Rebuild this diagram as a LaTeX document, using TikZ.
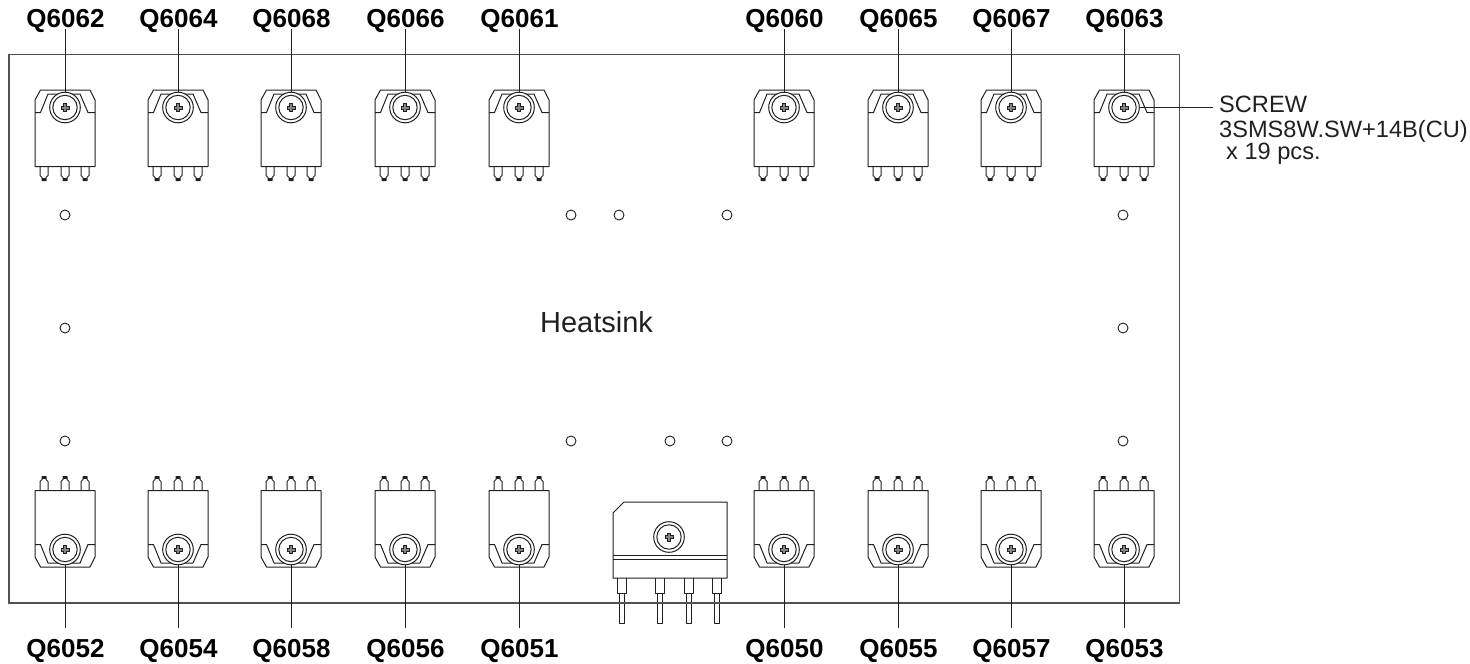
\documentclass[tikz,border=0pt]{standalone}
\usepackage{fontspec}
\setmainfont{Liberation Sans}
\definecolor{ink}{HTML}{231F20}
\definecolor{frame}{HTML}{55514F}
\tikzset{
  x=1pt,y=-1pt,
  part/.style={draw=ink,line width=1pt,line join=round},
  thin part/.style={draw=ink,line width=0.8pt},
  leader/.style={draw=ink,line width=1pt},
  qlabel/.style={font=\fontsize{26}{26}\selectfont\bfseries,text=black,inner sep=0pt,anchor=base},
  hole/.style={circle,draw=ink,line width=0.9pt,minimum size=10pt,inner sep=0pt,fill=white},
}
% screw centred on the origin
\newcommand{\screwhead}{%
  \draw[part] (0,0) circle (15.3);
  \draw[part] (0,0) circle (12.2);
  \draw[thin part,fill=ink!55] (-1.4,-4) -- (1.4,-4) -- (1.4,-1.4) -- (4,-1.4) -- (4,1.4) -- (1.4,1.4) -- (1.4,4) -- (-1.4,4) -- (-1.4,1.4) -- (-4,1.4) -- (-4,-1.4) -- (-1.4,-1.4) -- cycle;
}
% transistor, screw centre on the origin, leads pointing down
\newcommand{\transistor}[1]{%
  \begin{scope}[shift={#1}]
    \draw[part] (-30,-7.5) -- (-30,59) -- (30,59) -- (30,-7.5) -- (25,-17.5) -- (-24.5,-17.5) -- (-30,-7.5) -- cycle;
    \draw[part] (-30,5) -- (-24.5,5) -- (-17,-13.5) -- (15,-13.5) -- (23,5) -- (30,5);
    \foreach \lx in {-21,0,20} {
      \draw[part] (\lx-4,59) -- (\lx-4,68) -- (\lx-2,70) -- (\lx-2,73) -- (\lx+2,73) -- (\lx+2,70) -- (\lx+4,68) -- (\lx+4,59);
      \fill[ink] (\lx-2,70.5) rectangle (\lx+2,73.5);
    }
    \fill[white] (0,0) circle (15.3);
    \screwhead
  \end{scope}
}
\begin{document}
\begin{tikzpicture}
\useasboundingbox (0,0) rectangle (1470,664);
% heatsink
\draw[draw=frame,line width=1.5pt,line join=miter] (9,603) -- (9,54.5) -- (1179.5,54.5) -- (1179.5,603) -- cycle;
\node[inner sep=0pt,anchor=base,text=ink,font=\fontsize{29}{29}\selectfont] (heatsink) at (596.5,332) {Heatsink};
% holes
\foreach \n/\hx/\hy in {h1/65/215,h2/65/328,h3/65/441,h4/571/215,h5/619/215,h6/727/215,h7/1123/215,h8/1123/328,h9/1123/441,h10/571/441,h11/670/441,h12/727/441}
  \node[hole] (\n) at (\hx,\hy) {};
% top row
\foreach \n/\cx in {Q6062/65,Q6064/178,Q6068/291,Q6066/405,Q6061/519,Q6060/784,Q6065/898,Q6067/1011,Q6063/1124} {
  \transistor{(\cx,107.5)}
  \coordinate (s\n) at (\cx,92.2);
  \node[qlabel] (\n) at (\cx+0.5,27) {\n};
  \draw[leader] (\cx,29) -- (s\n);
}
% bottom row
\foreach \n/\cx in {Q6052/65,Q6054/178,Q6058/291,Q6056/405,Q6051/519,Q6050/784,Q6055/898,Q6057/1011,Q6053/1124} {
  \begin{scope}[yscale=-1,shift={(0,-549.5)}]
    \transistor{(\cx,0)}
  \end{scope}
  \coordinate (s\n) at (\cx,564.8);
  \node[qlabel] (\n) at (\cx+0.5,657) {\n};
  \draw[leader] (s\n) -- (\cx,628);
}
% bridge rectifier
\foreach \lx in {622,660,689,717} {
  \draw[part,fill=white] (\lx-4.5,578) -- (\lx-4.5,593) -- (\lx+4.5,593) -- (\lx+4.5,578);
  \draw[part,fill=white] (\lx-2.5,593) rectangle (\lx+2.5,623);
}
\draw[draw=frame,line width=1.5pt] (608,603) -- (730,603);
\draw[part,fill=white] (613,578) -- (613,513) -- (624,502) -- (727,502) -- (727,578) -- cycle;
\draw[part] (613,555) -- (727,555);
\draw[part] (613,559) -- (727,559);
\begin{scope}[shift={(669,537)}]
  \screwhead
\end{scope}
% callout
\node[inner sep=0pt,anchor=base west,text=ink,font=\fontsize{23.6}{23.6}\selectfont] (screw) at (1219,112) {SCREW};
\node[inner sep=0pt,anchor=base west,text=ink,font=\fontsize{23.6}{23.6}\selectfont] (code) at (1219,137) {3SMS8W.SW+14B(CU)};
\node[inner sep=0pt,anchor=base west,text=ink,font=\fontsize{23.6}{23.6}\selectfont] (qty) at (1226,159) {x 19 pcs.};
\coordinate (shead) at (1139,107.5);
\draw[leader] (shead) -- (1213,107.5);
\end{tikzpicture}
\end{document}
